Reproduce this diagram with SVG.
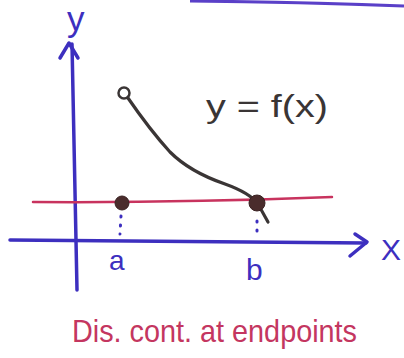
<svg xmlns="http://www.w3.org/2000/svg" width="404" height="358" viewBox="0 0 404 358">
<defs>
<style>
.blue{stroke:#3d2fbf;stroke-width:3.5;fill:none;stroke-linecap:round;stroke-linejoin:round}
.red{stroke:#c8335e;stroke-width:2.5;fill:none;stroke-linecap:round}
.curve{stroke:#3a3535;stroke-width:3.2;fill:none;stroke-linecap:round}
.dot{fill:#4a2c2c;stroke:#3a2222;stroke-width:1}
.dots{stroke:#3d2fbf;stroke-width:3;stroke-linecap:round;stroke-dasharray:1 8;fill:none}
.lbl{font-family:"Liberation Sans","DejaVu Sans",sans-serif;fill:#3d2fbf}
</style>
</defs>
<rect width="404" height="358" fill="#ffffff"/>
<path d="M190,1 Q300,2 404,6" stroke="#5a40c8" stroke-width="3" fill="none"/>
<g id="axes">
<path class="blue" d="M72,44 Q74,160 77,290"/>
<path class="blue" d="M60,58 L69,43 L78,58"/>
<path class="blue" d="M10,240 Q180,241 366,243"/>
<path class="blue" d="M355,234 L367,242 L350,256"/>
</g>
<g id="labels">
<text class="lbl" x="67" y="31" font-size="35">y</text>
<text class="lbl" x="381" y="260" font-size="30">X</text>
<text class="lbl" x="109" y="270" font-size="28">a</text>
<text class="lbl" x="246" y="280" font-size="30">b</text>
</g>
<g id="hline">
<path class="red" d="M33,202 Q180,203 332,197"/>
</g>
<g id="curve">
<circle cx="124" cy="93" r="5.5" fill="none" stroke="#3a3535" stroke-width="2.5"/>
<path class="curve" d="M128,98 Q150,130 170,152 Q190,172 225,184 Q250,193 258,204 L268,222"/>
<text x="206" y="117" font-family="Liberation Sans,DejaVu Sans,sans-serif" font-size="32" fill="#3a3535" textLength="122" lengthAdjust="spacingAndGlyphs">y = f(x)</text>
</g>
<g id="point-a">
<circle class="dot" cx="122" cy="203" r="7"/>
<path class="dots" d="M121,216 L120,234"/>
</g>
<g id="point-b">
<circle class="dot" cx="257" cy="203" r="8"/>
<path class="dots" d="M257,221 L257,238"/>
</g>
<g id="caption">
<text x="72" y="342" font-family="Liberation Sans,DejaVu Sans,sans-serif" font-size="32" fill="#c43660" textLength="285" lengthAdjust="spacingAndGlyphs">Dis. cont. at endpoints</text>
</g>
</svg>
